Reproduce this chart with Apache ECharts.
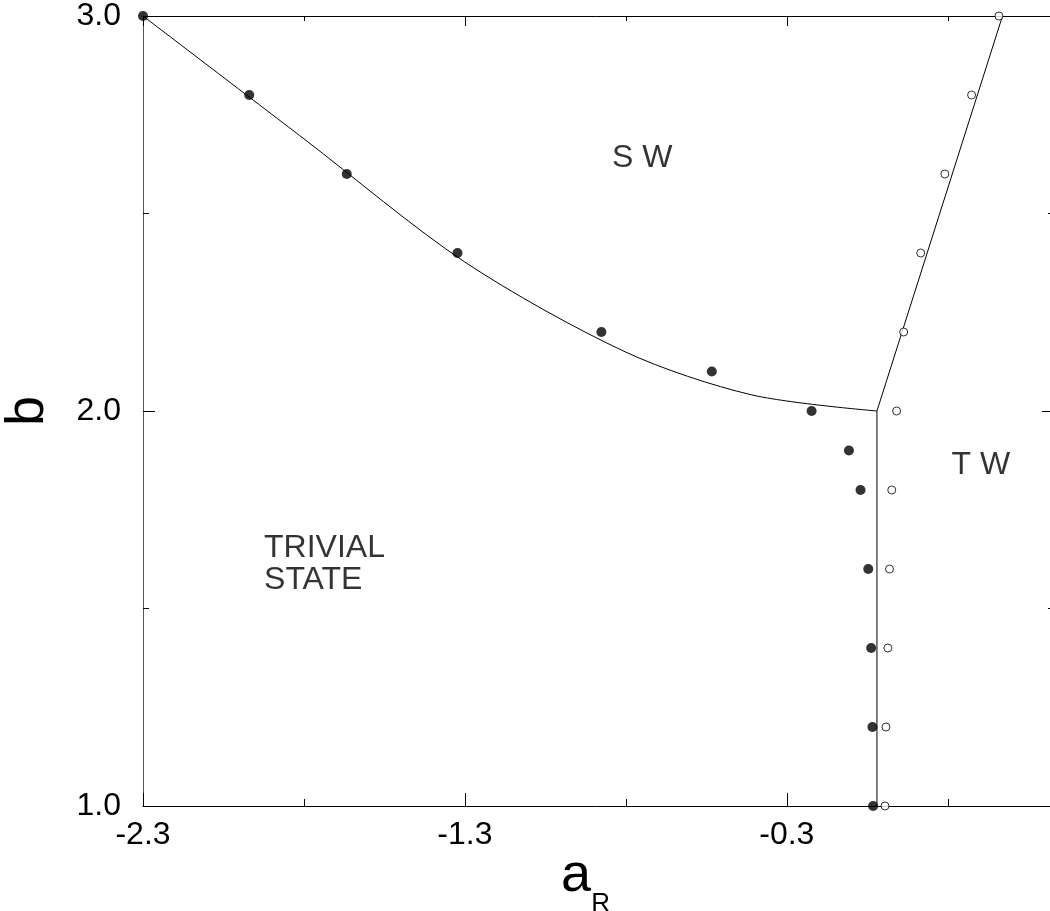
<!DOCTYPE html>
<html>
<head>
<meta charset="utf-8">
<script src="https://cdn.jsdelivr.net/npm/echarts@6/dist/echarts.min.js"></script>
<style>
  html, body { margin: 0; padding: 0; background: #fff; }
  #chart { width: 1050px; height: 911px; }
</style>
</head>
<body>
<div id="chart"></div>
<script>
// filled dots (S W boundary)
const swX = [-2.3, -1.97, -1.667, -1.323, -0.876, -0.533, -0.223, -0.107, -0.071, -0.047, -0.038, -0.034, -0.032]
const swY = [3.0, 2.8, 2.6, 2.4, 2.2, 2.1, 2.0, 1.9, 1.8, 1.6, 1.4, 1.2, 1.0]

// open dots (T W boundary)
const twX = [0.359, 0.274, 0.191, 0.116, 0.063, 0.041, 0.026, 0.019, 0.014, 0.008, 0.005]
const twY = [3.0, 2.8, 2.6, 2.4, 2.2, 2.0, 1.8, 1.6, 1.4, 1.2, 1.0]

// fitted curve
const curveX = [-2.3, -1.8, -1.3, -0.8, -0.41, -0.02]
const curveY = [3.0, 2.689, 2.377, 2.149, 2.041, 2.0]

// straight boundaries
const vertX = [-0.02, -0.02]
const vertY = [1.0, 2.0]
const slantX = [-0.02, 0.37]
const slantY = [2.0, 3.0]

// region names
const noteText = ['S W', 'T W', 'TRIVIAL\nSTATE']
const noteX = [-0.843, 0.2115, -1.924]
const noteY = [2.6405, 1.8625, 1.613]

// tick labels
const xTickLabels = ['-2.3', '-1.3', '-0.3']
const yTickLabels = ['1.0', '2.0', '3.0']

const X_MIN = -2.3
const X_MAX = 0.53
const Y_MIN = 1.0
const Y_MAX = 3.0

const FONT = 'Liberation Sans, Arial, sans-serif'
const pairs = (xs, ys) => xs.map((x, i) => [x, ys[i]])

const chart = echarts.init(document.getElementById('chart'))

const baseX = {
  type: 'value',
  min: X_MIN,
  max: X_MAX,
  splitLine: { show: false },
  axisLine: { show: true, onZero: false, lineStyle: { color: '#000', width: 1 } },
  axisLabel: { show: false }
}

const option = {
  animation: false,
  backgroundColor: '#fff',
  grid: { left: 143, top: 16, width: 911, height: 790, outerBoundsMode: 'none', containLabel: false },
  xAxis: [
    {
      ...baseX,
      position: 'bottom',
      interval: 1,
      axisTick: { inside: true, length: 13, lineStyle: { color: '#000' } },
      axisLabel: {
        show: true,
        margin: 13,
        color: '#000',
        fontSize: 32,
        fontFamily: FONT,
        formatter: (v) => (xTickLabels.includes(v.toFixed(1)) ? v.toFixed(1) : '')
      },
      name: '{a|a}{r|R}',
      nameLocation: 'middle',
      nameGap: 43,
      nameMoveOverlap: false,
      nameTextStyle: {
        color: '#000',
        fontFamily: FONT,
        rich: {
          a: { fontSize: 54, fontFamily: FONT, color: '#000', verticalAlign: 'bottom', padding: [0, 0, 14, 0] },
          r: { fontSize: 26, fontFamily: FONT, color: '#000', verticalAlign: 'bottom', padding: [0, 26, 0, 0] }
        }
      }
    },
    {
      ...baseX,
      position: 'bottom',
      interval: 0.5,
      axisLine: { show: false },
      axisTick: { inside: true, length: 7, lineStyle: { color: '#000' } }
    },
    {
      ...baseX,
      position: 'top',
      interval: 1,
      axisTick: { inside: true, length: 10, lineStyle: { color: '#000' } }
    },
    {
      ...baseX,
      position: 'top',
      interval: 0.5,
      axisLine: { show: false },
      axisTick: { inside: true, length: 5, lineStyle: { color: '#000' } }
    }
  ],
  yAxis: [
    {
      type: 'value',
      position: 'left',
      min: Y_MIN,
      max: Y_MAX,
      interval: 1,
      splitLine: { show: false },
      axisLine: { show: true, onZero: false, lineStyle: { color: '#555', width: 1 } },
      axisTick: { inside: true, length: 12, lineStyle: { color: '#000' } },
      minorTick: { show: true, splitNumber: 2, length: 6, lineStyle: { color: '#000' } },
      axisLabel: {
        margin: 22,
        color: '#000',
        fontSize: 32,
        fontFamily: FONT,
        formatter: (v) => (yTickLabels.includes(v.toFixed(1)) ? v.toFixed(1) : '')
      },
      name: 'b',
      nameLocation: 'middle',
      nameRotate: 90,
      nameGap: 88,
      nameMoveOverlap: false,
      nameTextStyle: { color: '#000', fontSize: 54, fontFamily: FONT }
    },
    {
      type: 'value',
      position: 'right',
      min: Y_MIN,
      max: Y_MAX,
      interval: 1,
      splitLine: { show: false },
      axisLine: { show: true, onZero: false, lineStyle: { color: '#000', width: 1 } },
      axisTick: { inside: true, length: 12, lineStyle: { color: '#000' } },
      minorTick: { show: true, splitNumber: 2, length: 6, lineStyle: { color: '#000' } },
      axisLabel: { show: false }
    }
  ],
  series: [
    {
      name: 'curve',
      type: 'line',
      data: pairs(curveX, curveY),
      smooth: 0.3,
      showSymbol: false,
      lineStyle: { color: '#000', width: 1 },
      z: 2
    },
    {
      name: 'vertical',
      type: 'line',
      data: pairs(vertX, vertY),
      showSymbol: false,
      lineStyle: { color: '#000', width: 1 },
      z: 2
    },
    {
      name: 'slant',
      type: 'line',
      data: pairs(slantX, slantY),
      showSymbol: false,
      lineStyle: { color: '#000', width: 1 },
      z: 2
    },
    {
      name: 'SW points',
      type: 'scatter',
      data: pairs(swX, swY),
      symbol: 'circle',
      symbolSize: 10,
      clip: false,
      itemStyle: { color: '#000' },
      z: 3
    },
    {
      name: 'TW points',
      type: 'scatter',
      data: pairs(twX, twY),
      symbol: 'circle',
      symbolSize: 8,
      clip: false,
      itemStyle: { color: '#fff', borderColor: '#000', borderWidth: 1 },
      z: 3
    },
    {
      name: 'notes',
      type: 'scatter',
      data: noteText.map((t, i) => ({ value: [noteX[i], noteY[i]], name: t })),
      symbolSize: 0,
      silent: true,
      label: {
        show: true,
        position: 'inside',
        align: 'left',
        verticalAlign: 'middle',
        formatter: (p) => p.name,
        color: '#000',
        fontSize: 32,
        lineHeight: 32,
        fontFamily: FONT
      },
      z: 4
    }
  ]
}

chart.setOption(option)
</script>
</body>
</html>
